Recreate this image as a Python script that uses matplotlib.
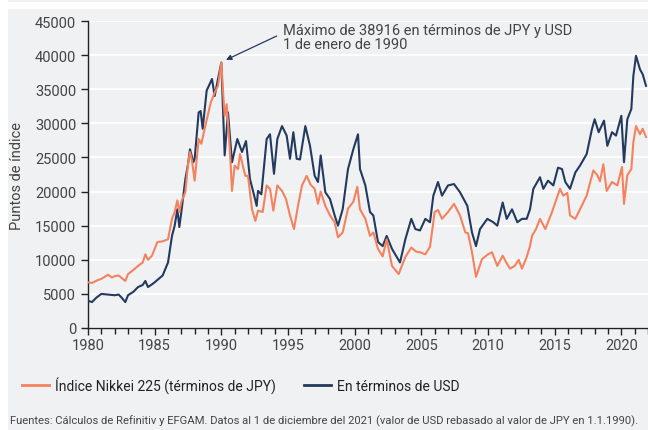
import matplotlib
matplotlib.use("Agg")
import matplotlib.pyplot as plt
from matplotlib.patches import Rectangle
from matplotlib.lines import Line2D

plt.rcParams['font.family'] = ['Roboto', 'DejaVu Sans']

# Nikkei 225 en términos de JPY (miles de puntos)
jpy_years = [1980.0, 1980.3, 1980.7, 1981.0, 1981.5, 1981.8, 1982.0, 1982.3, 1982.6, 1982.8,
             1983.0, 1983.4, 1983.75, 1984.1, 1984.3, 1984.5, 1984.8, 1985.2, 1985.6, 1986.0,
             1986.3, 1986.5, 1986.7, 1986.85, 1987.0, 1987.3, 1987.5, 1987.65, 1987.8, 1988.0,
             1988.3, 1988.5, 1988.9, 1989.2, 1989.5, 1989.75, 1990.0, 1990.15, 1990.25, 1990.4,
             1990.65, 1990.8, 1991.0, 1991.25, 1991.4, 1991.55, 1991.8, 1992.0, 1992.3, 1992.55,
             1992.75, 1993.1, 1993.4, 1993.65, 1993.9, 1994.2, 1994.55, 1994.85, 1995.15, 1995.45,
             1995.75, 1996.05, 1996.4, 1996.7, 1997.0, 1997.25, 1997.45, 1997.8, 1998.15, 1998.5,
             1998.75, 1999.1, 1999.5, 1999.9, 2000.2, 2000.4, 2000.8, 2001.15, 2001.4, 2001.75,
             2002.1, 2002.4, 2002.8, 2003.3, 2003.8, 2004.25, 2004.6, 2004.9, 2005.3, 2005.65,
             2006.0, 2006.25, 2006.55, 2007.0, 2007.45, 2007.9, 2008.3, 2008.5, 2008.8, 2009.1,
             2009.55, 2010.0, 2010.3, 2010.7, 2011.1, 2011.4, 2011.65, 2012.0, 2012.3, 2012.55,
             2012.9, 2013.15, 2013.3, 2013.6, 2013.9, 2014.3, 2014.8, 2015.4, 2015.65, 2015.95,
             2016.15, 2016.55, 2016.9, 2017.4, 2017.9, 2018.2, 2018.4, 2018.65, 2018.9, 2019.3,
             2019.7, 2020.05, 2020.2, 2020.45, 2020.75, 2020.9, 2021.1, 2021.4, 2021.6, 2021.85]
jpy_vals = [6.7, 6.6, 7.0, 7.2, 7.8, 7.4, 7.6, 7.7, 7.2, 6.9,
            7.9, 8.5, 9.1, 9.6, 10.8, 10.0, 10.6, 12.6, 12.7, 13.0,
            16.0, 17.0, 18.7, 17.0, 18.5, 19.9, 24.0, 25.8, 24.5, 21.6,
            27.7, 27.0, 30.5, 33.0, 34.5, 35.5, 38.9, 34.0, 31.1, 32.8,
            25.8, 20.1, 23.8, 23.3, 25.5, 24.3, 22.3, 22.3, 17.4, 15.7,
            17.2, 17.0, 20.9, 20.4, 17.2, 20.9, 20.1, 18.9, 16.5, 14.5,
            17.9, 20.9, 22.3, 21.0, 20.4, 18.2, 20.0, 17.9, 16.5, 15.5,
            13.3, 14.0, 17.5, 18.5, 20.7, 17.4, 16.0, 13.5, 14.0, 11.6,
            10.5, 13.0, 9.1, 7.9, 10.4, 11.8, 11.2, 11.1, 10.8, 11.9,
            17.0, 17.3, 16.0, 17.0, 18.2, 16.5, 14.0, 13.9, 11.1, 7.5,
            10.1, 10.8, 11.1, 9.1, 10.6, 9.5, 8.7, 9.1, 10.0, 8.7,
            10.4, 12.0, 13.5, 14.5, 16.0, 14.5, 17.0, 20.4, 19.4, 19.8,
            16.5, 16.0, 17.4, 19.4, 23.1, 22.4, 21.5, 24.0, 20.1, 21.4,
            20.9, 23.6, 18.2, 22.4, 23.3, 27.2, 29.6, 28.4, 29.2, 28.0]

# En términos de USD (rebasado a JPY en 1.1.1990)
usd_years = [1980.0, 1980.3, 1980.6, 1981.0, 1981.5, 1982.0, 1982.3, 1982.5, 1982.8, 1983.0,
             1983.4, 1983.75, 1984.1, 1984.3, 1984.5, 1984.8, 1985.0, 1985.6, 1986.0, 1986.3,
             1986.5, 1986.7, 1986.85, 1987.0, 1987.3, 1987.5, 1987.65, 1987.9, 1988.0, 1988.3,
             1988.45, 1988.6, 1988.9, 1989.3, 1989.5, 1989.75, 1990.0, 1990.25, 1990.5, 1990.8,
             1991.2, 1991.55, 1991.85, 1992.15, 1992.4, 1992.65, 1992.75, 1993.0, 1993.4, 1993.65,
             1993.95, 1994.2, 1994.55, 1994.9, 1995.15, 1995.4, 1995.65, 1995.9, 1996.3, 1996.65,
             1997.0, 1997.25, 1997.45, 1997.8, 1998.15, 1998.5, 1998.75, 1999.1, 1999.5, 1999.9,
             2000.25, 2000.4, 2000.8, 2001.15, 2001.4, 2001.75, 2002.1, 2002.4, 2002.8, 2003.4,
             2003.8, 2004.25, 2004.55, 2004.9, 2005.3, 2005.65, 2005.9, 2006.25, 2006.55, 2007.0,
             2007.45, 2007.9, 2008.45, 2008.8, 2009.1, 2009.4, 2009.95, 2010.4, 2010.7, 2011.1,
             2011.4, 2011.8, 2012.2, 2012.55, 2012.9, 2013.15, 2013.4, 2013.9, 2014.15, 2014.5,
             2014.9, 2015.25, 2015.55, 2015.8, 2016.15, 2016.55, 2016.9, 2017.4, 2017.8, 2018.0,
             2018.3, 2018.7, 2018.95, 2019.3, 2019.6, 2020.0, 2020.2, 2020.45, 2020.75, 2020.9,
             2021.1, 2021.4, 2021.6, 2021.85]
usd_vals = [4.0, 3.8, 4.4, 5.0, 4.9, 4.8, 4.9, 4.5, 3.8, 4.8,
            5.3, 6.0, 6.3, 6.9, 6.0, 6.4, 6.7, 7.7, 9.6, 13.5,
            15.0, 17.4, 14.8, 17.0, 21.8, 24.0, 26.2, 24.3, 24.8, 31.6,
            31.8, 29.2, 34.8, 36.5, 34.0, 36.5, 38.9, 25.3, 31.6, 24.3,
            27.7, 25.8, 27.4, 21.8, 19.9, 17.9, 20.1, 19.6, 27.7, 28.4,
            22.6, 27.7, 29.6, 28.2, 24.8, 28.7, 24.8, 24.7, 29.6, 26.7,
            22.3, 21.4, 25.3, 19.9, 18.9, 16.5, 15.0, 17.4, 23.3, 26.2,
            28.4, 23.3, 20.9, 17.0, 16.5, 12.6, 12.0, 13.5, 11.6, 9.6,
            13.0, 16.0, 14.5, 14.3, 16.0, 15.5, 19.4, 21.4, 19.4, 20.9,
            21.1, 19.9, 17.9, 14.0, 12.0, 14.5, 16.0, 15.5, 15.0, 18.4,
            16.0, 17.4, 15.5, 16.0, 16.0, 17.4, 20.4, 22.1, 20.4, 21.6,
            20.9, 23.5, 23.3, 21.4, 20.4, 22.8, 23.8, 25.5, 29.2, 30.6,
            28.7, 30.4, 26.7, 28.7, 28.2, 31.1, 24.3, 30.6, 32.1, 36.9,
            39.9, 37.9, 37.2, 35.5]

orange = '#f4825f'
navy = '#233a5e'
panel = '#f0f1f3'
txt = '#444444'

fig = plt.figure(figsize=(6.48, 4.31), dpi=100, facecolor='white')
fig.patches.append(Rectangle((8 / 648, 0), 1, 1 - 10 / 431, transform=fig.transFigure,
                             facecolor=panel, edgecolor='none', zorder=-10))
fig.patches.append(Rectangle((8 / 648, 1 - 3 / 431), 1, 3 / 431, transform=fig.transFigure,
                             facecolor=panel, edgecolor='none', zorder=-10))

ax = fig.add_axes([88 / 648, 1 - 329 / 431, 560 / 648, 307 / 431])
ax.set_facecolor(panel)

ax.plot(usd_years, [v * 1000 for v in usd_vals], color=navy, lw=1.5, zorder=3)
ax.plot(jpy_years, [v * 1000 for v in jpy_vals], color=orange, lw=1.5, zorder=4)

ax.set_xlim(1980, 2022)
ax.set_ylim(0, 45000)
ax.set_xticks(range(1980, 2021, 5))
ax.set_xticks(range(1980, 2023), minor=True)
ax.set_yticks(range(0, 45001, 5000))
ax.grid(axis='y', color='white', lw=1.3, zorder=0)
ax.set_axisbelow(True)

for s in ['top', 'right']:
    ax.spines[s].set_visible(False)
for s in ['left', 'bottom']:
    ax.spines[s].set_color('#222222')
    ax.spines[s].set_linewidth(1.0)
ax.tick_params(axis='both', which='major', labelsize=10.5, colors='#222222',
               labelcolor=txt, length=5, width=1)
ax.tick_params(axis='x', which='minor', length=4, width=1, colors='#222222')
ax.tick_params(axis='x', pad=2)

ax.set_ylabel('Puntos de índice', fontsize=10.5, color=txt)
ax.yaxis.set_label_coords(-0.115, 0.5)

# anotación del máximo
ax.annotate('', xy=(1990.35, 39300), xytext=(1994.15, 42800),
            arrowprops=dict(arrowstyle='-|>', color=navy, lw=0.9,
                            mutation_scale=8, shrinkA=0, shrinkB=0))
ax.text(1994.6, 44700, 'Máximo de 38916 en términos de JPY y USD\n1 de enero de 1990',
        ha='left', va='top', fontsize=10.5, color=txt, linespacing=1.0)

handles = [Line2D([], [], color=orange, lw=2),
           Line2D([], [], color=navy, lw=2)]
fig.legend(handles, ['Índice Nikkei 225 (términos de JPY)', 'En términos de USD'],
           loc='center left', bbox_to_anchor=(0.014, 1 - 386 / 431), ncol=2,
           frameon=False, fontsize=10, handlelength=2.0, handletextpad=0.4,
           columnspacing=2.0, labelcolor='#222222')

fig.text(10 / 648, 1 - 421 / 431,
         'Fuentes: Cálculos de Refinitiv y EFGAM. Datos al 1 de diciembre del 2021 '
         '(valor de USD rebasado al valor de JPY en 1.1.1990).',
         ha='left', va='center', fontsize=8.1, color=txt,
         family=['Liberation Sans Narrow', 'Roboto', 'DejaVu Sans'])

fig.savefig('out.png', dpi=100, facecolor=fig.get_facecolor())
